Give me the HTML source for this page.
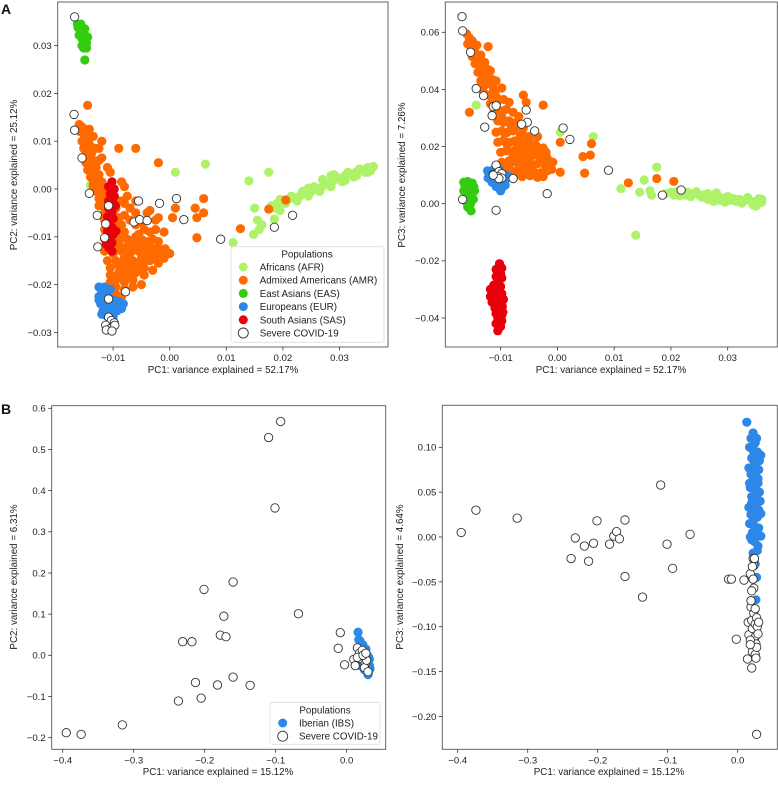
<!DOCTYPE html>
<html><head><meta charset="utf-8"><style>
html,body{margin:0;padding:0;background:#fff;}
svg{display:block;font-family:"Liberation Sans","DejaVu Sans",sans-serif;}
</style></head><body>
<svg id="fig" width="778" height="802" viewBox="0 0 778 802" xmlns="http://www.w3.org/2000/svg">
<text x="1" y="14" font-size="14" font-weight="bold" fill="#111">A</text>
<text x="1" y="414" font-size="14" font-weight="bold" fill="#111">B</text>
</svg>
<script>
// ---------- DATA ----------
const a1TicksX=[-0.01,0,0.01,0.02,0.03];
const a1TickLabelsX=["\u22120.01","0.00","0.01","0.02","0.03"];
const a1TicksY=[-0.03,-0.02,-0.01,0,0.01,0.02,0.03];
const a1TickLabelsY=["\u22120.03","\u22120.02","\u22120.01","0.00","0.01","0.02","0.03"];
const a2TicksY=[-0.04,-0.02,0,0.02,0.04,0.06];
const a2TickLabelsY=["\u22120.04","\u22120.02","0.00","0.02","0.04","0.06"];
const bTicksX=[-0.4,-0.3,-0.2,-0.1,0];
const bTickLabelsX=["\u22120.4","\u22120.3","\u22120.2","\u22120.1","0.0"];
const b1TicksY=[-0.2,-0.1,0,0.1,0.2,0.3,0.4,0.5,0.6];
const b1TickLabelsY=["\u22120.2","\u22120.1","0.0","0.1","0.2","0.3","0.4","0.5","0.6"];
const b2TicksY=[-0.2,-0.15,-0.1,-0.05,0,0.05,0.1];
const b2TickLabelsY=["\u22120.20","\u22120.15","\u22120.10","\u22120.05","0.00","0.05","0.10"];

const a1AFR=[[0.018,-0.0035],[0.019,-0.003],[0.02,-0.0025],[0.021,-0.0022],[0.022,-0.0018],[0.023,-0.0015],[0.024,-0.001],[0.025,-0.0005],[0.026,0.0],[0.027,0.0005],[0.028,0.001],[0.029,0.0018],[0.03,0.0022],[0.031,0.0028],[0.032,0.0032],[0.033,0.0036],[0.034,0.004],[0.035,0.0045],[0.036,0.0047],[0.0355,0.0038],[0.0345,0.0035],[0.0335,0.0042],[0.0325,0.0025],[0.0315,0.0035],[0.0305,0.0015],[0.0295,0.0025],[0.0285,0.0005],[0.0275,0.0012],[0.0265,-0.0005],[0.0255,0.0005],[0.0245,-0.0015],[0.0235,-0.0005],[0.0225,-0.0025],[0.0215,-0.0015],[0.0205,-0.003],[0.0195,-0.0022],[0.0185,-0.004],[0.027,0.002],[0.029,0.003],[0.031,0.0018],[0.033,0.0028],[0.035,0.0035],[0.0285,0.0028],[0.0245,0.0002],
[0.001,0.0035],[0.0063,0.0052],[0.0175,0.0035],[0.014,0.0017],[-0.014,0.0008],[0.015,-0.004],[0.0155,-0.0065],[0.0163,-0.0075],[0.0185,-0.0063],[0.0148,-0.0095],[0.0112,-0.0112],[0.0158,-0.0085],[0.0195,-0.0045]];
const a1AMR=[[-0.0160,0.0135],[-0.0155,0.013],[-0.015,0.0125],[-0.0158,0.012],[-0.0145,0.0115],[-0.015,0.011],[-0.0142,0.0105],[-0.0155,0.0100],[-0.0148,0.0095],[-0.014,0.009],[-0.0152,0.0085],[-0.0145,0.008],[-0.0138,0.0075],[-0.015,0.007],[-0.0142,0.0065],[-0.0135,0.006],[-0.0148,0.0055],[-0.014,0.005],[-0.013,0.0045],[-0.0145,0.004],[-0.0135,0.0035],[-0.0125,0.003],[-0.014,0.0025],[-0.013,0.002],[-0.012,0.0015],[-0.0135,0.001],[-0.0125,0.0005],[-0.0115,0.0],[-0.013,-0.0005],[-0.012,-0.001],[-0.011,-0.0015],[-0.0125,-0.002],[-0.0115,-0.0025],[-0.0105,-0.003],[-0.012,-0.0035],[-0.011,-0.004],[-0.0095,-0.004],[-0.0115,-0.005],[-0.01,-0.0055],[-0.009,-0.006],[-0.0108,-0.0065],[-0.0095,-0.007],[-0.0085,-0.0075],[-0.0105,-0.008],[-0.009,-0.0085],[-0.008,-0.009],[-0.0110,-0.0095],[-0.0095,-0.010],[-0.0075,-0.0105],[-0.006,-0.010],[-0.005,-0.0105],[-0.004,-0.011],[-0.003,-0.0105],[-0.002,-0.011],[-0.0008,-0.0125],[-0.0005,-0.0135],[-0.0015,-0.013],[-0.003,-0.0125],[-0.0045,-0.012],[-0.006,-0.0115],[-0.0075,-0.012],[-0.009,-0.0115],[-0.0105,-0.012],[-0.0115,-0.013],[-0.01,-0.0135],[-0.0085,-0.013],[-0.007,-0.0135],[-0.0055,-0.013],[-0.004,-0.0135],[-0.0025,-0.014],[-0.001,-0.0145],[-0.002,-0.0155],[-0.0035,-0.015],[-0.005,-0.0145],[-0.0065,-0.015],[-0.008,-0.0145],[-0.0095,-0.015],[-0.011,-0.015],[-0.0105,-0.0165],[-0.009,-0.016],[-0.0075,-0.0165],[-0.006,-0.016],[-0.0045,-0.0165],[-0.003,-0.017],[-0.0045,-0.018],[-0.006,-0.0175],[-0.0075,-0.018],[-0.009,-0.0175],[-0.0105,-0.018],[-0.0095,-0.019],[-0.008,-0.0195],[-0.0065,-0.019],[-0.005,-0.02],[-0.0065,-0.0205],[-0.008,-0.021],[-0.0095,-0.0205],[-0.0105,-0.0195],[-0.0095,-0.022],[-0.0085,-0.0225],[-0.0105,-0.0225],[-0.0135,0.0045],[-0.0125,0.0085],[-0.012,0.0065],[-0.0085,-0.0025],[-0.008,-0.0055],[-0.007,-0.0065],[-0.006,-0.0075],[-0.005,-0.007],[-0.0045,-0.0085],[-0.0035,-0.009],[-0.0025,-0.0085],[-0.001,-0.009],[-0.0025,-0.0065],[-0.0035,-0.0045],[-0.006,-0.005],[-0.007,-0.004],[-0.008,-0.003],[-0.0075,-0.0015],
[-0.0088,-0.0105],[-0.007,-0.011],[-0.0055,-0.0095],[-0.0035,-0.012],[-0.002,-0.0125],[-0.0095,-0.0125],[-0.008,-0.0125],[-0.0065,-0.0125],[-0.005,-0.0155],[-0.0085,-0.0155],[-0.007,-0.0155],[-0.0055,-0.017],[-0.0085,-0.017],[-0.007,-0.017],[-0.007,-0.0185],[-0.0085,-0.0185],[-0.0115,-0.0105],[-0.0115,-0.0085],[-0.009,-0.0025],[-0.0105,0.0035],[-0.0125,0.006],[-0.013,0.0085],[-0.0135,0.011],[-0.0142,0.0125],[-0.0135,0.0005],[-0.0125,-0.0035],[-0.0115,-0.0065],
[-0.0145,0.0175],[-0.012,0.010],[-0.009,0.0085],[-0.006,0.0085],[-0.002,0.0055],[-0.011,0.0045],[-0.0085,0.0015],[-0.008,0.0005],[-0.006,-0.0025],[-0.004,-0.005],[0.001,-0.004],[0.0045,-0.004],[0.006,-0.002],[0.006,-0.005],[0.0005,-0.006],[0.0048,-0.006],[0.0048,-0.0102],[0.0125,-0.0083],[0.0175,-0.0042],[0.0205,-0.0023],[-0.002,-0.006],[0.0,-0.0135]];
const a1EAS=[[-0.0163,0.0345],[-0.016,0.034],[-0.0155,0.0338],[-0.015,0.0335],[-0.0158,0.033],[-0.0152,0.0325],[-0.0148,0.032],[-0.0145,0.0318],[-0.016,0.0322],[-0.0155,0.0315],[-0.015,0.031],[-0.0147,0.0305],[-0.0155,0.03],[-0.0152,0.0295],[-0.0147,0.0295],[-0.015,0.027],[-0.0162,0.0338],[-0.0157,0.0345]];
const a1EUR=[[-0.0125,-0.0205],[-0.0115,-0.0205],[-0.0105,-0.021],[-0.012,-0.0215],[-0.011,-0.022],[-0.0125,-0.0225],[-0.0115,-0.023],[-0.0100,-0.0232],[-0.009,-0.0235],[-0.0082,-0.024],[-0.0122,-0.024],[-0.011,-0.0245],[-0.0098,-0.0245],[-0.0085,-0.025],[-0.0118,-0.0255],[-0.0105,-0.0258],[-0.0093,-0.0255],[-0.0112,-0.0265],[-0.0100,-0.0268],[-0.0120,-0.0262],[-0.0125,-0.0232]];
const a1SAS=[[-0.0102,0.0015],[-0.0108,0.0005],[-0.0098,0.0],[-0.0105,-0.001],[-0.0098,-0.0015],[-0.0108,-0.0025],[-0.0100,-0.003],[-0.0108,-0.004],[-0.0102,-0.0048],[-0.0110,-0.0058],[-0.0100,-0.0062],[-0.0108,-0.0072],[-0.0102,-0.008],[-0.0110,-0.0088],[-0.0100,-0.0095],[-0.0108,-0.0105],[-0.0102,-0.0112],[-0.0108,-0.0122],[-0.0102,-0.013],[-0.0096,-0.0035],[-0.0095,-0.0088],[-0.0112,-0.0115]];
const a1COVID=[[-0.0168,0.0360],[-0.0169,0.0156],[-0.0168,0.0123],[-0.0155,0.0065],[-0.0142,-0.0009],[-0.0128,-0.0055],[-0.0108,-0.0035],[-0.0113,-0.0073],[-0.0115,-0.0102],[-0.0127,-0.0121],[-0.0055,-0.0025],[-0.0018,-0.003],[0.0012,-0.002],[0.0025,-0.0064],[-0.0063,-0.0069],[-0.0053,-0.0064],[-0.004,-0.0066],[0.009,-0.0105],[0.0185,-0.008],[0.0217,-0.0055],[-0.0078,-0.0215],[-0.0108,-0.023],[-0.0108,-0.0268],[-0.0103,-0.0275],[-0.0098,-0.028],[-0.0113,-0.0285],[-0.01,-0.0288],[-0.0105,-0.0292],[-0.0097,-0.0285],[-0.0112,-0.0295],[-0.0102,-0.0297]];

const a2AFR=[[0.019,0.0035],[0.02,0.004],[0.021,0.0042],[0.022,0.0038],[0.023,0.004],[0.024,0.0035],[0.025,0.003],[0.026,0.0032],[0.027,0.0025],[0.028,0.0028],[0.029,0.002],[0.03,0.0025],[0.031,0.0018],[0.032,0.0015],[0.033,0.0012],[0.034,0.001],[0.035,0.0008],[0.036,0.0005],[0.0355,0.0018],[0.0345,-0.0005],[0.0335,0.0022],[0.0325,0.0002],[0.0315,0.0008],[0.0305,0.0012],[0.0295,0.0005],[0.0285,0.0012],[0.0275,0.0008],[0.0265,0.0015],[0.0255,0.0022],[0.0245,0.0042],[0.0235,0.0025],[0.0225,0.003],[0.0215,0.0028],[0.0205,0.003],[0.035,-0.0008],[0.036,0.0015],[0.0265,0.0035],[0.028,0.0038],
[-0.0143,0.0345],[0.0005,0.025],[0.0063,0.0235],[0.0112,0.0053],[0.0145,0.004],[0.0153,0.0083],[0.0163,0.0045],[0.0175,0.0128],[0.0166,0.003],[0.0138,-0.011]];
const a2AMR=[[-0.0160,0.0595],[-0.0155,0.058],[-0.015,0.057],[-0.0158,0.056],[-0.0152,0.0545],[-0.0145,0.053],[-0.0150,0.0515],[-0.0140,0.0505],[-0.0145,0.049],[-0.0135,0.048],[-0.0128,0.0495],[-0.0140,0.046],[-0.0130,0.0455],[-0.0122,0.047],[-0.0135,0.043],[-0.0125,0.042],[-0.0115,0.0435],[-0.0108,0.043],[-0.0130,0.039],[-0.0120,0.038],[-0.0110,0.039],[-0.0098,0.0405],[-0.0118,0.035],[-0.0105,0.036],[-0.0095,0.0365],[-0.0085,0.0355],[-0.0112,0.032],[-0.0100,0.0325],[-0.0090,0.033],[-0.0078,0.032],[-0.0105,0.029],[-0.0095,0.0285],[-0.0085,0.029],[-0.0072,0.0285],[-0.0060,0.0265],[-0.0108,0.025],[-0.0098,0.0255],[-0.0088,0.025],[-0.0078,0.0255],[-0.0065,0.024],[-0.0050,0.0235],[-0.0035,0.0235],[-0.0105,0.0215],[-0.0095,0.022],[-0.0085,0.0215],[-0.0075,0.022],[-0.0062,0.0215],[-0.0050,0.021],[-0.0038,0.0205],[-0.0025,0.0195],[-0.0100,0.018],[-0.0090,0.0185],[-0.0080,0.018],[-0.0068,0.0185],[-0.0055,0.018],[-0.0042,0.017],[-0.0030,0.0175],[-0.0018,0.016],[-0.0008,0.0145],[-0.0098,0.0145],[-0.0085,0.015],[-0.0072,0.0145],[-0.0060,0.015],[-0.0048,0.0142],[-0.0035,0.014],[-0.0022,0.0135],[-0.0010,0.012],[0.0005,0.011],[-0.0080,0.0115],[-0.0068,0.012],[-0.0055,0.011],[-0.0042,0.0112],[-0.0030,0.0108],[-0.0018,0.0115],[-0.0075,0.0098],[-0.0062,0.0095],[-0.0048,0.0098],[-0.0035,0.0092],[-0.0025,0.0095],[-0.0113,0.0405],[-0.0122,0.055],[-0.0098,0.0305],
[-0.0093,0.0245],[-0.0082,0.0275],[-0.0068,0.0305],[-0.0088,0.0205],[-0.0072,0.0195],[-0.0058,0.0195],[-0.0045,0.019],[-0.003,0.0155],[-0.0015,0.013],[-0.0045,0.0125],[-0.006,0.0135],[-0.0085,0.0135],[-0.009,0.012],[-0.0078,0.0165],[-0.0065,0.0165],[-0.005,0.016],[-0.0118,0.0465],[-0.0128,0.0415],[-0.0108,0.0375],[-0.0142,0.0555],[-0.0135,0.052],[-0.0125,0.0445],[-0.0075,0.0265],[-0.0062,0.0245],[-0.0048,0.0215],[-0.002,0.018],[-0.0035,0.0195],
[-0.0155,0.032],[-0.006,0.038],[-0.0055,0.0355],[-0.0025,0.0345],[0.0005,0.0215],[0.006,0.021],[0.0045,0.0165],[0.0058,0.017],[0.0048,0.0107],[0.0125,0.0073],[0.0175,0.0088],[0.0205,0.0078]];
const a2EAS=[[-0.0165,0.0075],[-0.0158,0.0078],[-0.0150,0.0072],[-0.0162,0.0065],[-0.0154,0.006],[-0.0147,0.0058],[-0.0165,0.0045],[-0.0158,0.004],[-0.0150,0.0035],[-0.0162,0.0025],[-0.0155,0.002],[-0.0148,0.0015],[-0.0160,0.0005],[-0.0153,0.0],[-0.0158,-0.0012],[-0.0152,-0.0025],[-0.0146,0.0045],[-0.0163,0.0055]];
const a2EUR=[[-0.0123,0.0115],[-0.0112,0.012],[-0.0102,0.0118],[-0.0120,0.0102],[-0.0110,0.0105],[-0.0098,0.0102],[-0.0088,0.0098],[-0.0122,0.009],[-0.0112,0.0088],[-0.0100,0.0085],[-0.0090,0.0088],[-0.0115,0.0075],[-0.0105,0.0072],[-0.0095,0.0075],[-0.0108,0.006],[-0.0098,0.0055],[-0.0100,0.0045],[-0.0092,0.0065]];
const a2SAS=[[-0.0102,-0.021],[-0.0098,-0.0225],[-0.0108,-0.023],[-0.0100,-0.0245],[-0.0108,-0.0255],[-0.0098,-0.026],[-0.0105,-0.0272],[-0.0112,-0.0285],[-0.0100,-0.029],[-0.0118,-0.030],[-0.0108,-0.031],[-0.0098,-0.0315],[-0.0118,-0.0325],[-0.0105,-0.033],[-0.0095,-0.0335],[-0.0115,-0.0345],[-0.0103,-0.035],[-0.0097,-0.036],[-0.0110,-0.0365],[-0.0100,-0.0375],[-0.0108,-0.0385],[-0.0098,-0.039],[-0.0105,-0.040],[-0.0098,-0.041],[-0.0108,-0.042],[-0.0100,-0.043],[-0.0105,-0.0445],[-0.0096,-0.038]];
const a2COVID=[[-0.0168,0.0655],[-0.0167,0.0605],[-0.0153,0.053],[-0.0143,0.0403],[-0.013,0.0378],[-0.0113,0.034],[-0.0108,0.0343],[-0.0115,0.0308],[-0.0128,0.0268],[-0.0055,0.0328],[-0.0053,0.0285],[-0.0063,0.0278],[-0.004,0.0255],[0.001,0.0265],[0.0022,0.0225],[0.009,0.0117],[0.0218,0.0048],[0.0185,0.003],[-0.0018,0.0035],[-0.0167,0.0015],[-0.0108,-0.0023],[-0.0108,0.0135],[-0.0113,0.0103],[-0.0103,0.0112],[-0.0098,0.0105],[-0.0105,0.0095],[-0.0098,0.009],[-0.0103,0.0088],[-0.0113,0.01],[-0.0078,0.0088]];

const b1IBS=[[0.016,0.056],[0.017,0.038],[0.019,0.034],[0.020,0.030],[0.018,0.020],[0.022,0.015],[0.025,0.010],[0.027,0.005],[0.029,0.0],[0.031,-0.005],[0.030,-0.015],[0.032,-0.025],[0.033,-0.032],[0.031,-0.040],[0.030,-0.047],[0.026,-0.020],[0.024,-0.010],[0.028,-0.030],[0.021,0.0],[0.023,0.025],[0.027,0.015],[0.029,-0.020],[0.019,-0.025],[0.025,-0.035],[0.032,-0.010]];
const b1COVID=[[-0.395,-0.188],[-0.374,-0.192],[-0.316,-0.169],[-0.237,-0.111],[-0.231,0.033],[-0.218,0.033],[-0.213,-0.066],[-0.205,-0.104],[-0.201,0.160],[-0.182,-0.072],[-0.178,0.049],[-0.173,0.095],[-0.170,0.045],[-0.160,0.178],[-0.160,-0.053],[-0.136,-0.073],[-0.110,0.529],[-0.101,0.358],[-0.093,0.568],[-0.068,0.101],[-0.009,0.055],[-0.012,0.017],[-0.003,-0.023],[0.010,-0.010],[0.012,-0.025],[0.015,0.018],[0.018,0.005],[0.020,-0.008],[0.022,0.012],[0.024,-0.002],[0.026,-0.020],[0.025,-0.030],[0.028,-0.012],[0.030,-0.040],[0.015,-0.005],[0.023,0.0],[0.027,0.005]];

const b2IBS=[[0.013,0.128],[0.022,0.116],[0.019,0.110],[0.025,0.105],[0.017,0.100],[0.023,0.095],[0.033,0.091],[0.020,0.088],[0.027,0.085],[0.016,0.077],[0.024,0.080],[0.030,0.075],[0.019,0.070],[0.026,0.068],[0.021,0.062],[0.029,0.060],[0.018,0.055],[0.025,0.052],[0.031,0.050],[0.020,0.045],[0.027,0.042],[0.016,0.033],[0.023,0.036],[0.030,0.030],[0.019,0.025],[0.026,0.022],[0.033,0.026],[0.017,0.015],[0.024,0.012],[0.030,0.010],[0.021,0.005],[0.027,0.002],[0.033,0.001],[0.018,0.0],[0.024,-0.005],[0.029,-0.010],[0.022,-0.018],[0.028,-0.015],[0.025,-0.030],[0.027,-0.045],[0.026,-0.070],[0.022,0.072],[0.028,0.095],[0.024,0.058],[0.020,0.038],[0.026,0.030],[0.022,0.018],[0.028,0.038],[0.023,0.085],[0.029,0.065],[0.021,0.098],[0.027,0.110],[0.024,0.002],[0.020,-0.003],[0.031,0.085],[0.017,0.060],[0.032,0.040],[0.025,0.070],[0.022,0.045],[0.028,0.022]];
const b2COVID=[[-0.395,0.005],[-0.374,0.030],[-0.315,0.021],[-0.238,-0.024],[-0.232,-0.001],[-0.219,-0.010],[-0.213,-0.027],[-0.206,-0.007],[-0.201,0.018],[-0.183,-0.008],[-0.177,0.001],[-0.173,0.006],[-0.169,-0.002],[-0.161,0.019],[-0.161,-0.044],[-0.136,-0.067],[-0.110,0.058],[-0.101,-0.008],[-0.093,-0.035],[-0.068,0.003],[-0.013,-0.047],[-0.009,-0.047],[-0.002,-0.114],[0.009,-0.048],[0.015,-0.095],[0.014,-0.136],[0.016,-0.109],[0.018,-0.041],[0.019,-0.078],[0.019,-0.071],[0.020,-0.093],[0.020,-0.146],[0.021,-0.128],[0.021,-0.102],[0.022,-0.047],[0.022,-0.024],[0.022,-0.120],[0.023,-0.032],[0.023,-0.057],[0.023,-0.085],[0.024,-0.113],[0.025,-0.080],[0.025,-0.097],[0.025,-0.131],[0.026,-0.119],[0.026,-0.135],[0.026,-0.110],[0.027,-0.090],[0.027,-0.123],[0.028,-0.100],[0.029,-0.108],[0.030,-0.095],[0.024,-0.024],[0.021,-0.033],[0.018,-0.115],[0.020,-0.060],[0.027,-0.220],[0.018,-0.120]];

// ---------- DRAWING ----------
const NS="http://www.w3.org/2000/svg";
const svg=document.getElementById('fig');
const C={AFR:"#aef26a",AMR:"#ff6a00",EAS:"#33cc11",EUR:"#2d87e6",SAS:"#e8000b",IBS:"#2d87e6"};
function mk(tag,attrs,parent){const e=document.createElementNS(NS,tag);for(const k in attrs)e.setAttribute(k,attrs[k]);(parent||svg).appendChild(e);return e;}
function linScale(d0,d1,r0,r1){return v=>r0+(v-d0)/(d1-d0)*(r1-r0);}

function panel(p){
  const g=mk('g',{});
  
  
  const sx=linScale(p.xd[0],p.xd[1],p.xr[0],p.xr[1]);
  const sy=linScale(p.yd[0],p.yd[1],p.yr[0],p.yr[1]);
  p.series.forEach(s=>{
    const sg=mk('g',{},g);
    
    
    s.data.forEach(d=>{
      const c=mk('circle',{cx:sx(d[0]).toFixed(2),cy:sy(d[1]).toFixed(2),r:s.open?4.2:4.6,fill:s.open?"#fff":s.color,stroke:s.open?"#333":"none","stroke-width":s.open?0.9:0},sg);
      
      
    });
  });
  const f=mk('rect',{x:p.box[0],y:p.box[1],width:p.box[2]-p.box[0],height:p.box[3]-p.box[1],fill:"none",stroke:"#555","stroke-width":0.9},g);
  
  
  const xg=mk('g',{},g);
  
  
  p.xt.forEach((v,i)=>{
    const x=sx(v);
    mk('line',{x1:x,x2:x,y1:p.box[3],y2:p.box[3]+3.5,stroke:"#333","stroke-width":0.8},xg);
    const t=mk('text',{x:x,y:p.box[3]+14,"font-size":9.6,"text-anchor":"middle",fill:"#222"},xg);
    t.textContent=p.xl[i];
    
    
  });
  const yg=mk('g',{},g);
  
  
  p.yt.forEach((v,i)=>{
    const y=sy(v);
    mk('line',{x1:p.box[0]-3.5,x2:p.box[0],y1:y,y2:y,stroke:"#333","stroke-width":0.8},yg);
    const t=mk('text',{x:p.box[0]-6,y:y+3.4,"font-size":9.6,"text-anchor":"end",fill:"#222"},yg);
    t.textContent=p.yl[i];
    
    
  });
  const xt=mk('text',{x:p.xTitle[0],y:p.xTitle[1],"font-size":9.8,"text-anchor":"middle",fill:"#222"},g);
  xt.textContent=p.xTitle[2];
  
  
  const yt=mk('text',{x:0,y:0,"font-size":9.8,"text-anchor":"middle",fill:"#222",transform:`translate(${p.yTitle[0]},${p.yTitle[1]}) rotate(-90)`},g);
  yt.textContent=p.yTitle[2];
  
  
  if(p.legend){
    const L=p.legend;
    const lg=mk('g',{},g);
    
    
    mk('rect',{x:L.box[0],y:L.box[1],width:L.box[2]-L.box[0],height:L.box[3]-L.box[1],fill:"#fff","fill-opacity":0.85,stroke:"#ddd","stroke-width":0.8,rx:2},lg);
    const tt=mk('text',{x:L.titleX,y:L.titleY,"font-size":9.8,"text-anchor":"middle",fill:"#222"},lg);
    tt.textContent="Populations";
    
    
    L.entries.forEach((e,i)=>{
      const y=L.y0+i*L.dy;
      const eg=mk('g',{},lg);
      
      
      mk('circle',{cx:L.mx,cy:y,r:e.open?5:4.5,fill:e.open?"#fff":e.color,stroke:e.open?"#333":"none","stroke-width":0.9},eg);
      const t=mk('text',{x:L.tx,y:y+3.5,"font-size":9.8,fill:"#222"},eg);
      t.textContent=e.label;
    });
  }
}

const aEntries=[{label:"Africans (AFR)",color:C.AFR},{label:"Admixed Americans (AMR)",color:C.AMR},{label:"East Asians (EAS)",color:C.EAS},{label:"Europeans (EUR)",color:C.EUR},{label:"South Asians (SAS)",color:C.SAS},{label:"Severe COVID-19",open:true}];

panel({name:"panel-a-pc1-pc2",box:[57.7,2,388,347],xd:[0,0.03],xr:[169.7,339.5],yd:[0,0.03],yr:[189,45.6],
  xt:a1TicksX,xl:a1TickLabelsX,yt:a1TicksY,yl:a1TickLabelsY,
  xTitle:[223,373,"PC1: variance explained = 52.17%"],yTitle:[17,175,"PC2: variance explained = 25.12%"],
  series:[{name:"afr",data:a1AFR,color:C.AFR},{name:"amr",data:a1AMR,color:C.AMR},{name:"eas",data:a1EAS,color:C.EAS},{name:"eur",data:a1EUR,color:C.EUR},{name:"sas",data:a1SAS,color:C.SAS},{name:"severe-covid",data:a1COVID,open:true}],
  legend:{box:[231,246.7,384,342.3],titleX:307,titleY:257.5,y0:267,dy:13.2,mx:243.3,tx:259.7,entries:aEntries}});

panel({name:"panel-a-pc1-pc3",box:[445.3,2,777.3,347],xd:[0,0.03],xr:[557.4,727.7],yd:[0,0.06],yr:[203.7,32.3],
  xt:a1TicksX,xl:a1TickLabelsX,yt:a2TicksY,yl:a2TickLabelsY,
  xTitle:[611,373,"PC1: variance explained = 52.17%"],yTitle:[405,175,"PC3: variance explained = 7.26%"],
  series:[{name:"afr",data:a2AFR,color:C.AFR},{name:"amr",data:a2AMR,color:C.AMR},{name:"eas",data:a2EAS,color:C.EAS},{name:"eur",data:a2EUR,color:C.EUR},{name:"sas",data:a2SAS,color:C.SAS},{name:"severe-covid",data:a2COVID,open:true}]});

panel({name:"panel-b-pc1-pc2",box:[51.7,405.7,385.7,749.3],xd:[-0.4,0],xr:[62.7,346.7],yd:[0,0.6],yr:[655.3,408.3],
  xt:bTicksX,xl:bTickLabelsX,yt:b1TicksY,yl:b1TickLabelsY,
  xTitle:[218,775,"PC1: variance explained = 15.12%"],yTitle:[17,577,"PC2: variance explained = 6.31%"],
  series:[{name:"ibs",data:b1IBS,color:C.IBS},{name:"severe-covid",data:b1COVID,open:true}],
  legend:{box:[270,702.3,380,744.3],titleX:325,titleY:713.5,y0:723,dy:13.2,mx:282.7,tx:299,entries:[{label:"Iberian (IBS)",color:C.IBS},{label:"Severe COVID-19",open:true}]}});

panel({name:"panel-b-pc1-pc3",box:[442.3,405.3,777.3,749.3],xd:[-0.4,0],xr:[457.7,737.7],yd:[0,0.1],yr:[537,447.3],
  xt:bTicksX,xl:bTickLabelsX,yt:b2TicksY,yl:b2TickLabelsY,
  xTitle:[609,775,"PC1: variance explained = 15.12%"],yTitle:[403,577,"PC3: variance explained = 4.64%"],
  series:[{name:"ibs",data:b2IBS,color:C.IBS},{name:"severe-covid",data:b2COVID,open:true}]});
</script>
</body></html>
